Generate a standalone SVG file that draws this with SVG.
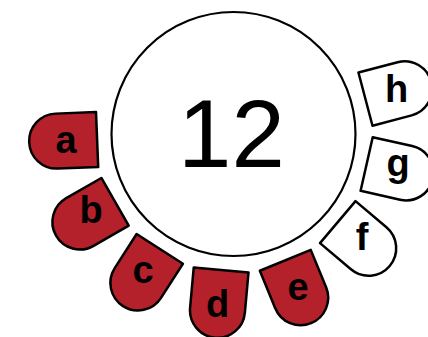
<svg xmlns="http://www.w3.org/2000/svg" width="428" height="337" viewBox="0 0 428 337">
<defs>
<style>
.p{stroke:#000;stroke-width:2.5;stroke-linejoin:round}
.r{fill:#b5212a}
.w{fill:#fff}
.l{font-family:"Liberation Sans",Arial,sans-serif;font-weight:bold;font-size:38px;text-anchor:middle;fill:#000}
.big{font-family:"Liberation Sans",Arial,sans-serif;font-size:96px;text-anchor:middle;fill:#000}
</style>
<path id="petal" d="M0,-27.5 L40.5,-27.5 A27.5,27.5 0 0 1 40.5,27.5 L0,27.5 Z"/>
</defs>
<rect width="428" height="337" fill="#fff"/>
<g id="center">
<circle cx="233.5" cy="134" r="122" fill="#fff" stroke="#000" stroke-width="2.2"/>
<text class="big" x="231.5" y="166.7">12</text>
</g>
<g id="connectors"></g>
<g id="a"><use href="#petal" class="p r" transform="translate(233.5,134) rotate(177.7) translate(136.5,0)"/><text class="l" x="66" y="152.7">a</text></g>
<g id="b"><use href="#petal" class="p r" transform="translate(233.5,134) rotate(150.2) translate(136.5,0)"/><text class="l" x="91" y="223">b</text></g>
<g id="c"><use href="#petal" class="p r" transform="translate(233.5,134) rotate(122.7) translate(136.5,0)"/><text class="l" x="143" y="283">c</text></g>
<g id="d"><use href="#petal" class="p r" transform="translate(233.5,134) rotate(95.2) translate(136.5,0)"/><text class="l" x="217.7" y="316.7">d</text></g>
<g id="e"><use href="#petal" class="p r" transform="translate(233.5,134) rotate(67.7) translate(136.5,0)"/><text class="l" x="298" y="300">e</text></g>
<g id="f"><use href="#petal" class="p w" transform="translate(233.5,134) rotate(40.2) translate(136.5,0)"/><text class="l" x="362" y="250">f</text></g>
<g id="g"><use href="#petal" class="p w" transform="translate(233.5,134) rotate(12.7) translate(136.5,0)"/><text class="l" x="398" y="176">g</text></g>
<g id="h"><use href="#petal" class="p w" transform="translate(233.5,134) rotate(-14.8) translate(136.5,0)"/><text class="l" x="396.5" y="101.7">h</text></g>
</svg>
